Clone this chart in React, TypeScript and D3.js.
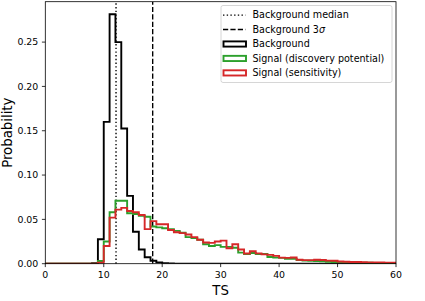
import React from "react";
import * as d3 from "d3";

// bin edges 0..60, width 1
const binEdges = d3.range(0, 61);

const background = [
  0, 0, 0, 0, 0, 0, 0, 0, 0.0005, 0.0275,
  0.16, 0.2815, 0.25, 0.1525, 0.0765, 0.036, 0.016, 0.0072, 0.0034, 0.0015,
  0.0006, 0.0002, 0, 0, 0, 0, 0, 0, 0, 0,
  0, 0, 0, 0, 0, 0, 0, 0, 0, 0,
  0, 0, 0, 0, 0, 0, 0, 0, 0, 0,
  0, 0, 0, 0, 0, 0, 0, 0, 0, 0,
];

const signalDiscovery = [
  0, 0, 0, 0, 0, 0, 0, 0, 0, 0.003,
  0.025, 0.058, 0.071, 0.071, 0.057, 0.056, 0.054, 0.053, 0.042, 0.041,
  0.04, 0.039, 0.037, 0.035, 0.03, 0.029, 0.027, 0.022, 0.02, 0.021,
  0.019, 0.019, 0.018, 0.0125, 0.011, 0.012, 0.011, 0.011, 0.0075, 0.0068,
  0.0066, 0.0055, 0.0055, 0.004, 0.0035, 0.0033, 0.003, 0.0028, 0.0022, 0.002,
  0.0018, 0.0017, 0.0015, 0.0013, 0.0012, 0.001, 0.0009, 0.0008, 0.0007, 0.0006,
];

const signalSensitivity = [
  0, 0, 0, 0, 0, 0, 0, 0, 0, 0.001,
  0.02, 0.052, 0.061, 0.063, 0.0595, 0.058, 0.055, 0.039, 0.048, 0.0445,
  0.0445, 0.038, 0.0355, 0.0345, 0.033, 0.03, 0.027, 0.024, 0.0235, 0.025,
  0.026, 0.0174, 0.022, 0.016, 0.0115, 0.014, 0.0117, 0.0105, 0.01, 0.0088,
  0.0068, 0.0066, 0.007, 0.0045, 0.004, 0.004, 0.0045, 0.0042, 0.0035, 0.0033,
  0.0025, 0.0022, 0.002, 0.0019, 0.0017, 0.0015, 0.0014, 0.0013, 0.0012, 0.0012,
];

const bgMedian = 12.1;
const bg3sigma = 18.37;

const xTicks = [0, 10, 20, 30, 40, 50, 60];
const yTicks = [0, 0.05, 0.1, 0.15, 0.2, 0.25];

const legendItems = [
  { label: "Background median", kind: "dotted", color: "#000" },
  { label: "Background 3", kind: "dashed", color: "#000" },
  { label: "Background", kind: "rect", color: "#000" },
  { label: "Signal (discovery potential)", kind: "rect", color: "#2ca02c" },
  { label: "Signal (sensitivity)", kind: "rect", color: "#d62728" },
];

const width = 425;
const height = 301;
const margin = { top: 1.7, right: 29, bottom: 37.3, left: 45.3 };
const font = "DejaVu Sans, sans-serif";

export default function App() {
  const x = d3
    .scaleLinear()
    .domain([0, 60])
    .range([margin.left, width - margin.right]);
  const ymax = d3.max(background) * 1.05;
  const y = d3
    .scaleLinear()
    .domain([0, ymax])
    .range([height - margin.bottom, margin.top]);

  const stepPath = (vals: number[]) => {
    const pts: [number, number][] = [[binEdges[0], 0]];
    vals.forEach((v, i) => {
      pts.push([binEdges[i], v]);
      pts.push([binEdges[i + 1], v]);
    });
    pts.push([binEdges[binEdges.length - 1], 0]);
    return d3
      .line<[number, number]>()
      .x((d) => x(d[0]))
      .y((d) => y(d[1]))(pts);
  };

  const x0 = margin.left;
  const x1 = width - margin.right;
  const y0 = height - margin.bottom;
  const y1 = margin.top;

  const lx = 221;
  const ly = 5.5;
  const rowH = 14.45;

  return (
    <svg
      width={width}
      height={height}
      style={{ position: "absolute", left: 0, top: 0, background: "#fff" }}
      fontFamily={font}
    >
      <defs>
        <clipPath id="plot">
          <rect x={x0} y={y1} width={x1 - x0} height={y0 - y1} />
        </clipPath>
      </defs>
      <g clipPath="url(#plot)">
        <line
          x1={x(bgMedian)}
          x2={x(bgMedian)}
          y1={y0}
          y2={y1}
          stroke="#000"
          strokeWidth={1.4}
          strokeDasharray="1.4,2.3"
        />
        <line
          x1={x(bg3sigma)}
          x2={x(bg3sigma)}
          y1={y0}
          y2={y1}
          stroke="#000"
          strokeWidth={1.4}
          strokeDasharray="5.2,2.2"
        />
        <path d={stepPath(background)} fill="none" stroke="#000" strokeWidth={1.9} strokeLinejoin="miter" />
        <path d={stepPath(signalDiscovery)} fill="none" stroke="#2ca02c" strokeWidth={1.9} />
        <path d={stepPath(signalSensitivity)} fill="none" stroke="#d62728" strokeWidth={1.9} />
      </g>

      {/* frame */}
      <rect x={x0} y={y1} width={x1 - x0} height={y0 - y1} fill="none" stroke="#000" strokeWidth={0.8} />

      {/* x axis */}
      {xTicks.map((t) => (
        <g key={t}>
          <line x1={x(t)} x2={x(t)} y1={y0} y2={y0 + 3.4} stroke="#000" strokeWidth={0.8} />
          <text x={x(t)} y={y0 + 14.3} fontSize={9.4} textAnchor="middle">
            {t}
          </text>
        </g>
      ))}
      <text x={(x0 + x1) / 2} y={295} fontSize={13.3} textAnchor="middle">
        TS
      </text>

      {/* y axis */}
      {yTicks.map((t) => (
        <g key={t}>
          <line x1={x0 - 3.4} x2={x0} y1={y(t)} y2={y(t)} stroke="#000" strokeWidth={0.8} />
          <text x={x0 - 7} y={y(t)} dy="0.35em" fontSize={9.4} textAnchor="end">
            {t.toFixed(2)}
          </text>
        </g>
      ))}
      <text
        transform={`translate(12,${(y0 + y1) / 2}) rotate(-90)`}
        fontSize={13.3}
        textAnchor="middle"
      >
        Probability
      </text>

      {/* legend */}
      <rect x={lx} y={ly} width={171} height={77} rx={2} fill="#fff" fillOpacity={0.8} stroke="#ccc" strokeWidth={0.8} />
      {legendItems.map((it, i) => {
        const cy = ly + 9.6 + i * rowH;
        return (
          <g key={it.label}>
            {it.kind === "dotted" && (
              <line x1={lx + 2} x2={lx + 24.5} y1={cy} y2={cy} stroke="#000" strokeWidth={1.4} strokeDasharray="1.4,2.3" />
            )}
            {it.kind === "dashed" && (
              <line x1={lx + 2} x2={lx + 24.5} y1={cy} y2={cy} stroke="#000" strokeWidth={1.4} strokeDasharray="5.2,2.2" />
            )}
            {it.kind === "rect" && (
              <rect x={lx + 2.5} y={cy - 2.6} width={22.5} height={5.2} fill="none" stroke={it.color} strokeWidth={1.9} />
            )}
            <text x={lx + 31.5} y={cy} dy="0.35em" fontSize={9.6}>
              {it.label}
              {it.kind === "dashed" && <tspan fontStyle="italic">σ</tspan>}
            </text>
          </g>
        );
      })}
    </svg>
  );
}
